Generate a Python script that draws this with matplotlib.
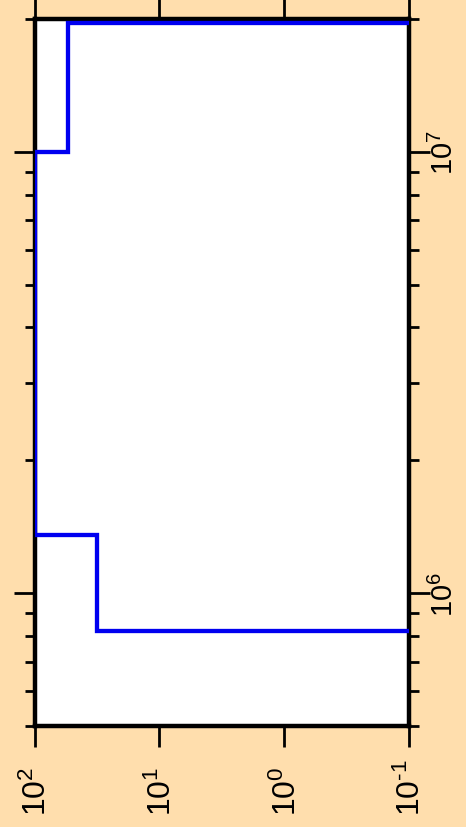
import numpy as np
import matplotlib
matplotlib.use('Agg')
import matplotlib.pyplot as plt
from matplotlib import transforms
from matplotlib.ticker import LogLocator, NullLocator, NullFormatter

plt.rcParams['font.family'] = ['Liberation Sans', 'DejaVu Sans']
plt.rcParams['mathtext.fontset'] = 'custom'
plt.rcParams['mathtext.rm'] = 'Liberation Sans'
plt.rcParams['mathtext.it'] = 'Liberation Sans'
plt.rcParams['mathtext.default'] = 'regular'

# band edges along the vertical (log) axis and the level in each band
band_lo = [8.22e5, 1.355e6, 1.0e7]
band_hi = [1.355e6, 1.0e7, 1.96e7]
band_val = [31.6, 100.0, 54.0]
floor_val = 0.01  # outside the plotted range, line leaves the frame

val_ticks = [100, 10, 1, 0.1]
val_labels = [r'$10^{2}$', r'$10^{1}$', r'$10^{0}$', r'$10^{\text{-}1}$']
freq_ticks = [1e6, 1e7]
freq_labels = [r'$10^{6}$', r'$10^{7}$']
side_label = 'Lifetime (s)'

# build the step outline
xs = [floor_val]
ys = [band_lo[0]]
for lo, hi, v in zip(band_lo, band_hi, band_val):
	xs += [v, v]
	ys += [lo, hi]
xs.append(floor_val)
ys.append(band_hi[-1])

W, H = 466, 828
fig = plt.figure(figsize=(W/100, H/100), dpi=100, facecolor='navajowhite')
ax = fig.add_axes([34.5/W, 101/H, 374/W, 707/H])
ax.set_facecolor('white')

ax.plot(xs, ys, color='#0000f0', lw=3.1, zorder=3, solid_joinstyle='miter')

ax.set_xscale('log')
ax.set_yscale('log')
ax.set_xlim(100, 0.1)
ax.set_ylim(5e5, 2e7)

for s in ax.spines.values():
	s.set_linewidth(3.2)

# value axis (horizontal)
ax.set_xticks(val_ticks)
ax.xaxis.set_minor_locator(NullLocator())
ax.tick_params(axis='x', which='major', direction='out', length=15, width=2,
			   top=True, bottom=True, labelbottom=False, labeltop=False)

# value labels drawn rotated, digits centred on the tick
lab_tr = transforms.offset_copy(ax.get_xaxis_transform(), fig=fig, x=8.6, y=-64, units='points')
for v, lab in zip(val_ticks, val_labels):
	ax.text(v, 0, lab, transform=lab_tr, rotation=90, rotation_mode='anchor',
			ha='left', va='baseline', fontsize=23, clip_on=False)

# frequency axis (vertical)
ax.set_yticks(freq_ticks)
ax.set_yticklabels(freq_labels, rotation=90, va='center', fontsize=21)
ax.yaxis.set_minor_locator(LogLocator(base=10, subs=np.arange(2, 10)))
ax.yaxis.set_minor_formatter(NullFormatter())
ax.tick_params(axis='y', which='both', direction='out', width=2,
			   left=True, right=True, labelleft=False, labelright=True)
ax.tick_params(axis='y', which='major', length=15, pad=0.5)
ax.tick_params(axis='y', which='minor', length=7.5)

fig.text(1.5/W, 1 - 398/H, side_label, rotation=90, ha='right', va='center', fontsize=23)

fig.savefig('out.png', dpi=100, facecolor=fig.get_facecolor())
